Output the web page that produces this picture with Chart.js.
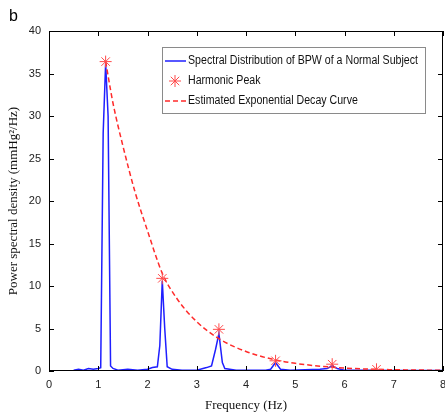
<!DOCTYPE html>
<html>
<head>
<meta charset="utf-8">
<script src="https://cdn.jsdelivr.net/npm/chart.js@4"></script>
<style>
  html, body { margin: 0; padding: 0; background: #fff; overflow: hidden; }
  #wrap { width: 450px; height: 413px; }
</style>
</head>
<body>
<div id="wrap"><canvas id="psdChart"></canvas></div>
<script>
// spectrum of the blood pressure wave
const specX = [0.5, 0.6, 0.7, 0.8, 0.9, 1.0, 1.05, 1.1, 1.15, 1.2, 1.25, 1.3, 1.4, 1.6, 1.8, 2.0, 2.1, 2.2, 2.25, 2.3, 2.35, 2.4, 2.5, 2.7, 3.0, 3.2, 3.3, 3.38, 3.45, 3.52, 3.57, 3.8, 4.0, 4.4, 4.5, 4.6, 4.7, 4.9, 5.5, 5.65, 5.75, 5.85, 6.0, 6.5, 7.0, 8.0];
const specY = [0.1, 0.2, 0.1, 0.3, 0.2, 0.3, 0.4, 28, 36.2, 30, 0.6, 0.3, 0.1, 0.2, 0.1, 0.2, 0.4, 0.5, 3, 10.6, 5, 0.5, 0.2, 0.1, 0.1, 0.4, 0.6, 2.5, 4.4, 1, 0.3, 0.1, 0.1, 0.1, 0.2, 1.0, 0.2, 0.1, 0.2, 0.3, 0.6, 0.3, 0.1, 0.1, 0.05, 0.05];

// harmonic peaks
const peakX = [1.15, 2.3, 3.45, 4.6, 5.75, 6.65];
const peakY = [36.4, 10.9, 4.9, 1.2, 0.8, 0.2];

// estimated exponential decay curve
const decayX = [1.15, 1.3, 1.5, 1.75, 2.0, 2.3, 2.6, 3.0, 3.45, 4.0, 4.6, 5.0, 5.75, 6.5, 7.0, 8.0];
const decayY = [36.4, 31.5, 26.5, 21, 16.5, 11.5, 8.5, 5.8, 3.8, 2.3, 1.3, 0.9, 0.45, 0.22, 0.15, 0.08];

const xTicks = [0, 1, 2, 3, 4, 5, 6, 7, 8];
const yTicks = [0, 5, 10, 15, 20, 25, 30, 35, 40];

const legendLabels = [
  "Spectral Distribution of BPW of a Normal Subject",
  "Harmonic Peak",
  "Estimated Exponential Decay Curve"
];

const pts = (xs, ys) => xs.map((x, i) => ({ x: x, y: ys[i] }));

const BLUE = "#1f1fff";
const RED = "#ff2a2a";

// box, inward ticks, legend and panel letter
const framePlugin = {
  id: "frame",
  afterDraw(chart) {
    const c = chart.ctx;
    const a = chart.chartArea;
    const xs = chart.scales.x, ys = chart.scales.y;
    c.save();
    c.strokeStyle = "#000";
    c.lineWidth = 1;
    c.strokeRect(a.left + 0.5, a.top + 0.5, a.right - a.left - 1, a.bottom - a.top - 1);
    c.beginPath();
    xTicks.forEach(v => {
      const px = Math.round(xs.getPixelForValue(v)) + 0.5;
      c.moveTo(px, a.bottom); c.lineTo(px, a.bottom - 5);
      c.moveTo(px, a.top); c.lineTo(px, a.top + 5);
    });
    yTicks.forEach(v => {
      const py = Math.round(ys.getPixelForValue(v)) + 0.5;
      c.moveTo(a.left, py); c.lineTo(a.left + 5, py);
      c.moveTo(a.right, py); c.lineTo(a.right - 5, py);
    });
    c.stroke();

    // legend
    const bx = 162.5, by = 47.5, bw = 263, bh = 66;
    c.fillStyle = "#fff";
    c.fillRect(bx, by, bw, bh);
    c.strokeStyle = "#8a8a8a";
    c.strokeRect(bx, by, bw, bh);

    c.font = "12px 'Liberation Sans', Arial, sans-serif";
    c.textBaseline = "middle";
    c.fillStyle = "#111";
    const w0 = c.measureText(legendLabels[0]).width;
    const sx = 230 / w0;
    const rows = [61, 81, 101];
    rows.forEach((ry, i) => {
      c.save();
      c.translate(188, ry);
      c.scale(sx, 1);
      c.fillText(legendLabels[i], 0, 0);
      c.restore();
    });
    c.lineWidth = 1.5;
    c.strokeStyle = BLUE;
    c.beginPath(); c.moveTo(165, rows[0]); c.lineTo(186, rows[0]); c.stroke();
    c.strokeStyle = RED;
    c.setLineDash([5, 3]);
    c.beginPath(); c.moveTo(165, rows[2]); c.lineTo(186, rows[2]); c.stroke();
    c.setLineDash([]);
    c.lineWidth = 1;
    c.strokeStyle = "#ff4a4a";
    const r = 6, cx = 175, cy = rows[1];
    c.beginPath();
    for (let k = 0; k < 4; k++) {
      const ang = k * Math.PI / 4;
      c.moveTo(cx - r * Math.cos(ang), cy - r * Math.sin(ang));
      c.lineTo(cx + r * Math.cos(ang), cy + r * Math.sin(ang));
    }
    c.stroke();

    c.fillStyle = "#000";
    c.font = "16px 'Liberation Sans', Arial, sans-serif";
    c.textBaseline = "alphabetic";
    c.fillText("b", 9, 21);
    c.restore();
  }
};

new Chart(document.getElementById("psdChart"), {
  type: "line",
  data: {
    datasets: [
      {
        label: legendLabels[1],
        data: pts(peakX, peakY),
        showLine: false,
        pointStyle: "star",
        pointRadius: 6,
        pointBorderWidth: 1,
        borderColor: "#ff4a4a",
        backgroundColor: "#ff4a4a",
        order: 0
      },
      {
        label: legendLabels[2],
        data: pts(decayX, decayY),
        borderColor: RED,
        borderWidth: 1.5,
        borderDash: [5, 3],
        pointRadius: 0,
        tension: 0.4,
        cubicInterpolationMode: "monotone",
        order: 1
      },
      {
        label: legendLabels[0],
        data: pts(specX, specY),
        borderColor: BLUE,
        borderWidth: 1.5,
        pointRadius: 0,
        tension: 0,
        order: 2
      }
    ]
  },
  options: {
    responsive: true,
    maintainAspectRatio: false,
    animation: false,
    layout: { padding: { top: 31, right: 0, left: 0, bottom: 0 } },
    plugins: {
      legend: { display: false },
      tooltip: { enabled: false }
    },
    scales: {
      x: {
        type: "linear",
        min: 0,
        max: 8,
        grid: { display: false, drawTicks: false },
        border: { display: false },
        afterFit: s => { s.height = 42; s.paddingRight = 2; s.paddingLeft = 0; },
        afterBuildTicks: s => { s.ticks = xTicks.map(v => ({ value: v })); },
        ticks: {
          padding: 7,
          color: "#222",
          font: { family: "'Liberation Sans', Arial, sans-serif", size: 11 }
        },
        title: {
          display: true,
          text: "Frequency (Hz)",
          color: "#111",
          padding: { top: 2, bottom: 0 },
          font: { family: "'Liberation Serif', 'Times New Roman', serif", size: 13 }
        }
      },
      y: {
        min: 0,
        max: 40,
        grid: { display: false, drawTicks: false },
        border: { display: false },
        afterFit: s => { s.width = 49; },
        afterBuildTicks: s => { s.ticks = yTicks.map(v => ({ value: v })); },
        ticks: {
          padding: 8,
          color: "#222",
          font: { family: "'Liberation Sans', Arial, sans-serif", size: 11 }
        },
        title: {
          display: true,
          text: "Power spectral density (mmHg\u00b2/Hz)",
          color: "#111",
          padding: { top: 6, bottom: 0 },
          font: { family: "'Liberation Serif', 'Times New Roman', serif", size: 13 }
        }
      }
    }
  },
  plugins: [framePlugin]
});
</script>
</body>
</html>
